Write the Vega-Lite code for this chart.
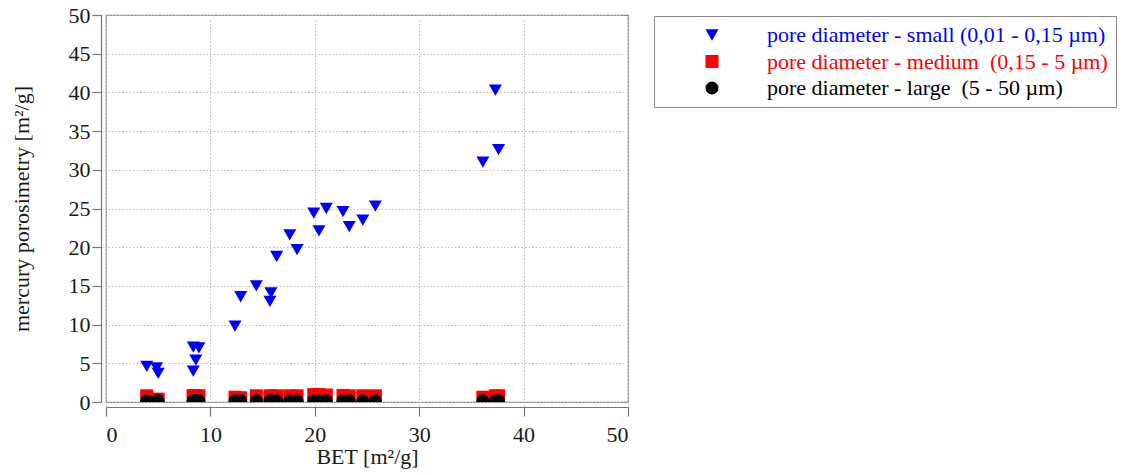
{
  "$schema": "https://vega.github.io/schema/vega-lite/v6.json",
  "width": 522,
  "height": 387,
  "autosize": "none",
  "padding": {"left": 106, "top": 15, "right": 501, "bottom": 73},
  "background": "white",
  "config": {
    "font": "Liberation Serif",
    "view": {"stroke": "#8a8a8a", "strokeWidth": 1.2},
    "axis": {
      "labelFont": "Liberation Serif",
      "titleFont": "Liberation Serif",
      "labelFontSize": 22,
      "titleFontSize": 22,
      "labelColor": "#1a1a1a",
      "titleColor": "#1a1a1a",
      "titleFontWeight": "normal",
      "domainColor": "#777",
      "tickColor": "#777",
      "domainWidth": 1.2,
      "tickWidth": 1.2,
      "tickSize": 9,
      "offset": 5,
      "gridColor": "#bdbdbd",
      "gridDash": [1.5, 2],
      "gridWidth": 1
    }
  },
  "data": {
    "values": [
      {"bet": 3.9, "small": 4.6, "medium": 0.8, "large": 0.15},
      {"bet": 4.85, "small": 4.4, "medium": 0.35, "large": 0.15},
      {"bet": 5.0, "small": 3.7, "medium": 0.35, "large": 0.15},
      {"bet": 8.36, "small": 7.1, "medium": 0.8, "large": 0.15},
      {"bet": 8.36, "small": 4.0, "medium": 0.8, "large": 0.15},
      {"bet": 8.6, "small": 5.4, "medium": 0.8, "large": 0.2},
      {"bet": 8.9, "small": 7.0, "medium": 0.8, "large": 0.15},
      {"bet": 12.36, "small": 9.8, "medium": 0.62, "large": 0.15},
      {"bet": 12.9, "small": 13.6, "medium": 0.55, "large": 0.15},
      {"bet": 14.4, "small": 15.0, "medium": 0.8, "large": 0.15},
      {"bet": 15.7, "small": 13.0, "medium": 0.75, "large": 0.2},
      {"bet": 15.8, "small": 14.1, "medium": 0.8, "large": 0.15},
      {"bet": 16.35, "small": 18.8, "medium": 0.8, "large": 0.15},
      {"bet": 17.6, "small": 21.6, "medium": 0.8, "large": 0.15},
      {"bet": 18.3, "small": 19.7, "medium": 0.8, "large": 0.15},
      {"bet": 19.9, "small": 24.4, "medium": 0.95, "large": 0.15},
      {"bet": 20.4, "small": 22.1, "medium": 0.95, "large": 0.15},
      {"bet": 21.1, "small": 25.0, "medium": 0.9, "large": 0.15},
      {"bet": 22.7, "small": 24.6, "medium": 0.85, "large": 0.15},
      {"bet": 23.3, "small": 22.65, "medium": 0.8, "large": 0.15},
      {"bet": 24.6, "small": 23.5, "medium": 0.8, "large": 0.15},
      {"bet": 25.8, "small": 25.3, "medium": 0.8, "large": 0.15},
      {"bet": 36.1, "small": 31.0, "medium": 0.62, "large": 0.15},
      {"bet": 37.3, "small": 40.3, "medium": 0.8, "large": 0.15},
      {"bet": 37.6, "small": 32.6, "medium": 0.8, "large": 0.15}
    ]
  },
  "transform": [
    {"fold": ["small", "medium", "large"], "as": ["pore", "value"]}
  ],
  "mark": {"type": "point", "filled": true, "opacity": 1, "clip": true},
  "encoding": {
    "x": {
      "field": "bet",
      "type": "quantitative",
      "scale": {"domain": [0, 50], "nice": false},
      "axis": {"values": [0, 10, 20, 30, 40, 50], "title": "BET [m²/g]", "labelPadding": 8, "titlePadding": 1}
    },
    "y": {
      "field": "value",
      "type": "quantitative",
      "scale": {"domain": [0, 50], "nice": false},
      "axis": {"values": [0, 5, 10, 15, 20, 25, 30, 35, 40, 45, 50], "title": "mercury porosimetry [m²/g]", "labelPadding": 2, "titlePadding": 35}
    },
    "color": {
      "field": "pore",
      "type": "nominal",
      "scale": {"domain": ["small", "medium", "large"], "range": ["#0000ff", "#ff0000", "#000000"]}
    },
    "shape": {
      "field": "pore",
      "type": "nominal",
      "scale": {"domain": ["small", "medium", "large"], "range": ["triangle-down", "square", "circle"]},
      "legend": {
        "title": null,
        "orient": "none",
        "legendX": 548,
        "legendY": 1,
        "padding": 8,
        "strokeColor": "#8a8a8a",
        "fillColor": "white",
        "symbolSize": 170,
        "symbolOffset": 39,
        "symbolOpacity": 1,
        "symbolStrokeWidth": 0,
        "labelOffset": 44,
        "labelFont": "Liberation Serif",
        "labelFontSize": 22,
        "labelLimit": 600,
        "rowPadding": 4.5,
        "labelColor": {"expr": "datum.value === 'small' ? '#0000ff' : datum.value === 'medium' ? '#ff0000' : '#000000'"},
        "labelExpr": "datum.value === 'small' ? 'pore diameter - small (0,01 - 0,15 µm)\u00a0\u00a0\u00a0\u00a0\u00a0\u00a0\u00a0\u00a0\u00a0\u00a0' : datum.value === 'medium' ? 'pore diameter - medium\u00a0 (0,15 - 5 µm)' : 'pore diameter - large\u00a0 (5 - 50 µm)'"
      }
    },
    "size": {"value": 170},
    "order": {"field": "pore", "sort": "descending"}
  }
}
